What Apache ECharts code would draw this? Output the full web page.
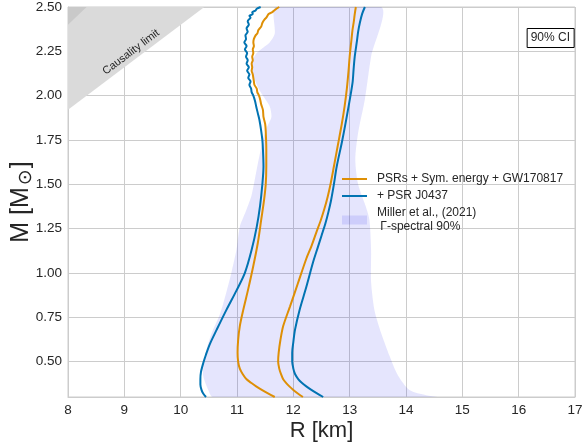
<!DOCTYPE html>
<html><head><meta charset="utf-8">
<script src="https://cdn.jsdelivr.net/npm/echarts@6/dist/echarts.min.js"></script>
<style>html,body{margin:0;padding:0;background:#fff}#c{width:584px;height:447px}</style>
</head><body><div id="c"></div>
<script>
// ---- data ----
const xTicks = [8, 9, 10, 11, 12, 13, 14, 15, 16, 17];
const yTicks = [0.5, 0.75, 1.0, 1.25, 1.5, 1.75, 2.0, 2.25, 2.5];

const nameOrange = 'PSRs + Sym. energy + GW170817';
const nameBlue = '+ PSR J0437';
const nameMiller = 'Miller et al., (2021)\n Γ-spectral 90%';

// [R (km), M (Msun)]
const orangeLow = [[11.67,0.30],[11.55,0.32],[11.44,0.34],[11.34,0.36],[11.25,0.38],[11.17,0.40],[11.10,0.43],[11.05,0.46],[11.02,0.50],[11.01,0.55],[11.02,0.62],[11.05,0.70],[11.11,0.79],[11.20,0.91],[11.29,1.04],[11.37,1.17],[11.43,1.30],[11.48,1.41],[11.51,1.50],[11.52,1.60],[11.52,1.70],[11.51,1.80],[11.50,1.84],[11.47,1.88],[11.46,1.92],[11.43,1.95],[11.41,1.98],[11.39,2.00],[11.36,2.02],[11.35,2.04],[11.31,2.06],[11.30,2.08],[11.29,2.10],[11.28,2.12],[11.26,2.14],[11.27,2.16],[11.26,2.18],[11.28,2.20],[11.27,2.22],[11.29,2.24],[11.28,2.26],[11.30,2.28],[11.29,2.30],[11.30,2.32],[11.33,2.34],[11.36,2.35],[11.38,2.37],[11.43,2.39],[11.45,2.41],[11.49,2.43],[11.52,2.44],[11.56,2.46],[11.62,2.47],[11.66,2.48],[11.70,2.49],[11.75,2.50]];
const orangeHigh = [[12.17,0.30],[12.08,0.32],[12.00,0.34],[11.93,0.36],[11.87,0.38],[11.82,0.40],[11.78,0.43],[11.75,0.46],[11.73,0.50],[11.74,0.55],[11.77,0.62],[11.82,0.70],[11.94,0.81],[12.08,0.94],[12.23,1.08],[12.32,1.15],[12.41,1.23],[12.49,1.30],[12.55,1.36],[12.61,1.43],[12.66,1.50],[12.72,1.60],[12.79,1.72],[12.86,1.84],[12.91,1.94],[12.95,2.04],[12.98,2.14],[13.00,2.22],[13.03,2.31],[13.05,2.37],[13.07,2.41],[13.09,2.46],[13.11,2.50]];
const blueLow = [[10.45,0.30],[10.40,0.32],[10.37,0.34],[10.35,0.37],[10.35,0.40],[10.36,0.44],[10.40,0.49],[10.45,0.54],[10.52,0.60],[10.64,0.68],[10.81,0.79],[10.99,0.90],[11.14,1.00],[11.26,1.13],[11.35,1.26],[11.41,1.38],[11.45,1.50],[11.47,1.60],[11.46,1.70],[11.45,1.75],[11.43,1.80],[11.40,1.86],[11.37,1.90],[11.34,1.94],[11.32,1.97],[11.29,2.00],[11.26,2.02],[11.25,2.04],[11.22,2.06],[11.24,2.08],[11.20,2.10],[11.22,2.12],[11.18,2.14],[11.21,2.16],[11.17,2.18],[11.19,2.20],[11.16,2.22],[11.18,2.24],[11.14,2.26],[11.17,2.28],[11.13,2.30],[11.16,2.32],[11.15,2.34],[11.19,2.36],[11.17,2.38],[11.21,2.40],[11.19,2.42],[11.24,2.44],[11.22,2.45],[11.28,2.46],[11.27,2.47],[11.33,2.48],[11.35,2.49],[11.42,2.50]];
const blueHigh = [[12.53,0.30],[12.42,0.32],[12.32,0.34],[12.23,0.36],[12.15,0.38],[12.09,0.40],[12.03,0.43],[12.00,0.46],[11.98,0.50],[11.98,0.55],[12.00,0.61],[12.03,0.68],[12.11,0.79],[12.23,0.92],[12.35,1.06],[12.43,1.14],[12.50,1.21],[12.57,1.28],[12.62,1.34],[12.67,1.41],[12.72,1.50],[12.77,1.60],[12.87,1.75],[12.97,1.92],[13.05,2.07],[13.07,2.15],[13.09,2.22],[13.13,2.31],[13.15,2.36],[13.18,2.41],[13.22,2.46],[13.27,2.50]];

// Miller et al. (2021) 90% region: left edge bottom->top, then right edge top->bottom
const millerRegion = [[10.57,0.30],[10.49,0.34],[10.40,0.42],[10.41,0.49],[10.46,0.57],[10.55,0.66],[10.70,0.77],[10.81,0.89],[10.90,1.00],[10.99,1.13],[11.05,1.26],[11.16,1.35],[11.26,1.44],[11.36,1.60],[11.46,1.75],[11.53,1.82],[11.61,1.88],[11.58,1.94],[11.40,2.03],[11.28,2.12],[11.26,2.18],[11.35,2.24],[11.58,2.30],[11.67,2.35],[11.69,2.50],
  [13.56,2.50],[13.38,2.22],[13.27,1.98],[13.15,1.79],[13.10,1.64],[13.15,1.50],[13.28,1.38],[13.35,1.30],[13.38,1.13],[13.38,0.95],[13.44,0.79],[13.56,0.66],[13.71,0.53],[13.86,0.42],[14.06,0.34],[14.36,0.31],[14.54,0.30]];

const causality = [[8,1.92],[10.42,2.50],[8,2.50]];
const causalityCorner = [[8,2.40],[8.33,2.50],[8,2.50]];

// ---- chart ----
const TXT = '#262626';
const FONT = '"Liberation Sans", Arial, Helvetica, sans-serif';
const chart = echarts.init(document.getElementById('c'), null, {renderer: 'canvas'});

function polySeries(points, color, extra) {
  return Object.assign({
    type: 'custom', data: points, silent: true, clip: true,
    itemStyle: {color: color},
    encode: {x: 0, y: 1},
    renderItem: function (params, api) {
      if (params.dataIndex !== 0) return;
      return {type: 'polygon', shape: {points: points.map(p => api.coord(p)), smooth: 0.25}, style: {fill: color}};
    }
  }, extra || {});
}

function lineSeries(name, data, color) {
  return {
    type: 'line', name: name, data: data, symbol: 'none', showSymbol: false,
    smooth: 0.3,
    lineStyle: {color: color, width: 2}, itemStyle: {color: color}, z: 5, silent: true, clip: true
  };
}

const causalityText = [9.12, 2.245];

const option = {
  animation: false,
  textStyle: {fontFamily: FONT},
  title: {
    text: '90% CI', right: 10, top: 28, padding: [4, 4, 4, 4],
    borderColor: '#000', borderWidth: 1, backgroundColor: '#fff',
    textStyle: {fontSize: 12, fontWeight: 'normal', color: TXT, fontFamily: FONT}
  },
  grid: {left: 68, right: 9, top: 7, bottom: 50, show: true, borderColor: '#cccccc', borderWidth: 1,
    backgroundColor: '#fff', outerBoundsMode: 'none', containLabel: false},
  xAxis: {
    type: 'value', min: 8, max: 17, interval: 1,
    axisLine: {show: true, lineStyle: {color: '#cccccc'}},
    axisTick: {show: false},
    axisLabel: {fontSize: 13.5, color: TXT, margin: 6, fontFamily: FONT},
    splitLine: {show: true, lineStyle: {color: '#cccccc', width: 1}},
    name: 'R [km]', nameLocation: 'middle', nameGap: 23, nameMoveOverlap: false,
    nameTextStyle: {fontSize: 22, color: TXT, fontFamily: FONT}
  },
  yAxis: {
    type: 'value', min: 0.3, max: 2.5,
    axisLine: {show: true, lineStyle: {color: '#cccccc'}},
    axisTick: {show: false, customValues: yTicks},
    axisLabel: {fontSize: 13.5, color: TXT, margin: 6, fontFamily: FONT, customValues: yTicks,
      formatter: v => v.toFixed(2)},
    splitLine: {show: true, lineStyle: {color: '#cccccc', width: 1}},
    name: 'M [M{s|⊙}]', nameLocation: 'middle', nameGap: 32, nameRotate: 90, nameMoveOverlap: false,
    nameTextStyle: {fontSize: 25, color: TXT, fontFamily: FONT,
      rich: {s: {fontSize: 19, color: TXT, padding: [10, 1, 0, 2], fontFamily: 'DejaVu Sans'}}}
  },
  legend: {
    orient: 'vertical', left: 342, top: 172, padding: 0,
    itemWidth: 25, itemHeight: 9, itemGap: 3, selectedMode: false,
    textStyle: {fontSize: 12, color: TXT, lineHeight: 14, fontFamily: FONT, padding: [0, 0, 0, 5]},
    data: [
      {name: nameOrange, icon: 'path://M0,0 L25,0 L25,2 L0,2 Z'},
      {name: nameBlue, icon: 'path://M0,0 L25,0 L25,2 L0,2 Z'},
      {name: nameMiller, icon: 'rect'}
    ]
  },
  series: [
    polySeries(causality, '#dadada', {
      z: 1,
      renderItem: function (params, api) {
        if (params.dataIndex !== 0) return;
        const c = api.coord(causalityText);
        return {type: 'group', children: [
          {type: 'polygon', shape: {points: causality.map(p => api.coord(p))}, style: {fill: '#dadada'}},
          {type: 'polygon', shape: {points: causalityCorner.map(p => api.coord(p))}, style: {fill: '#c9c9c9'}},
          {type: 'text', x: c[0], y: c[1], rotation: 37 * Math.PI / 180,
            style: {text: 'Causality limit', fontSize: 11, fill: TXT, align: 'center', verticalAlign: 'middle', fontFamily: FONT}}
        ]};
      }
    }),
    polySeries(millerRegion, 'rgba(20,20,235,0.11)', {name: nameMiller, z: 2}),
    lineSeries(nameOrange, orangeLow, '#DE8F05'),
    lineSeries(nameOrange, orangeHigh, '#DE8F05'),
    lineSeries(nameBlue, blueLow, '#0173B2'),
    lineSeries(nameBlue, blueHigh, '#0173B2')
  ]
};
chart.setOption(option);
</script>
</body></html>
